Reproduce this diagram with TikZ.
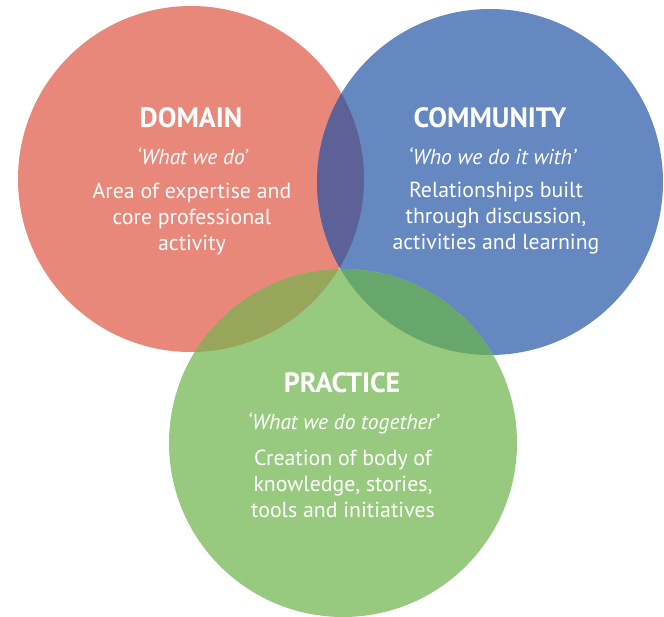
\documentclass[tikz,border=0pt]{standalone}
\usepackage{fontspec}
\setmainfont{PT Sans}
\definecolor{cred}{HTML}{E8887A}
\definecolor{cblue}{HTML}{6588C1}
\definecolor{cgreen}{HTML}{97CA7E}
\definecolor{crb}{HTML}{5C6298}
\definecolor{crg}{HTML}{97A65A}
\definecolor{cbg}{HTML}{68A76C}
\definecolor{crbg}{HTML}{5E7F6A}
\tikzset{
  title/.style={text=white, font=\bfseries\fontsize{28}{32}\selectfont, anchor=base},
  quote/.style={text=white, font=\itshape\fontsize{21.5}{26}\selectfont, anchor=base},
  body/.style={text=white, font=\fontsize{21.8}{26}\selectfont, align=center, anchor=north},
}
\begin{document}
\begin{tikzpicture}[x=1pt,y=-1pt]
\useasboundingbox (0,0) rectangle (664,617);
\fill[white] (0,0) rectangle (664,617);
\coordinate (R) at (191,179);
\coordinate (B) at (490,182);
\coordinate (G) at (343,443);
\def\rr{173}
\fill[cred] (R) circle (\rr);
\fill[cblue] (B) circle (\rr);
\fill[cgreen] (G) circle (174);
\begin{scope}
  \clip (R) circle (\rr);
  \fill[crb] (B) circle (\rr);
  \fill[crg] (G) circle (174);
  \clip (B) circle (\rr);
  \fill[crbg] (G) circle (174);
\end{scope}
\begin{scope}
  \clip (B) circle (\rr);
  \clip (G) circle (174);
  \fill[cbg] (B) circle (\rr);
  \clip (R) circle (\rr);
  \fill[crbg] (G) circle (174);
\end{scope}
% Domain
\node[title] (dt) at (191,128) {DOMAIN};
\node[quote] (dq) at (192,165) {`What we do'};
\node[body] (db) at (192,179) {Area of expertise and\\core professional\\activity};
% Community
\node[title] (ct) at (490,128) {COMMUNITY};
\node[quote] (cq) at (492,165) {`Who we do it with'};
\node[body] (cb) at (496,179) {Relationships built\\through discussion,\\activities and learning};
% Practice
\node[title] (pt) at (342,393) {PRACTICE};
\node[quote] (pq) at (343,429) {`What we do together'};
\node[body] (pb) at (343,446) {Creation of body of\\knowledge, stories,\\tools and initiatives};
\end{tikzpicture}
\end{document}
